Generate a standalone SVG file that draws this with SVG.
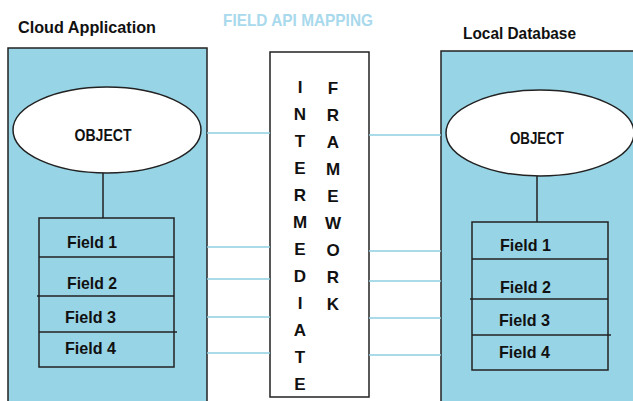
<svg xmlns="http://www.w3.org/2000/svg" width="633" height="401" viewBox="0 0 633 401">
<style>
.panel{fill:#97d4e6;stroke:#222;stroke-width:1.5}
.ell{fill:#fff;stroke:#222;stroke-width:1.5}
.ln{stroke:#222;stroke-width:1.5;fill:none}
.tbl{fill:none;stroke:#222;stroke-width:1.5}
.con{stroke:#8fcfe0;stroke-width:1.5;fill:none}
text{font-family:"Liberation Sans",Arial,sans-serif;font-weight:bold;fill:#111}
.title{font-size:17px}
.obj{font-size:17px;text-anchor:middle}
.fld{font-size:17px}
.let{font-size:17px;text-anchor:middle}
.hdr{font-size:17px;fill:#a9d9ec;text-anchor:middle}
</style>
<rect width="633" height="401" fill="#fff"/>
<text class="hdr" x="298" y="26" textLength="150" lengthAdjust="spacingAndGlyphs">FIELD API MAPPING</text>
<g id="cloud">
<text class="title" x="18" y="33" textLength="138" lengthAdjust="spacingAndGlyphs">Cloud Application</text>
<rect class="panel" x="8" y="48" width="199" height="360"/>
<g id="cloud-object">
<ellipse class="ell" cx="107" cy="130" rx="94" ry="43"/>
<text class="obj" x="103" y="141" textLength="57" lengthAdjust="spacingAndGlyphs">OBJECT</text>
</g>
<line class="ln" x1="103" y1="173" x2="103" y2="218"/>
<g id="cloud-fields">
<rect class="tbl" x="39" y="218" width="135" height="149"/>
<line class="ln" x1="39" y1="257" x2="174" y2="257"/>
<line class="ln" x1="37" y1="296" x2="174" y2="296"/>
<line class="ln" x1="39" y1="332" x2="177" y2="332"/>
<text class="fld" x="67" y="248" textLength="50" lengthAdjust="spacingAndGlyphs">Field 1</text>
<text class="fld" x="67" y="289" textLength="50" lengthAdjust="spacingAndGlyphs">Field 2</text>
<text class="fld" x="65" y="323" textLength="51" lengthAdjust="spacingAndGlyphs">Field 3</text>
<text class="fld" x="65" y="354" textLength="51" lengthAdjust="spacingAndGlyphs">Field 4</text>
</g>
</g>
<g id="framework">
<rect x="270" y="52" width="99" height="345" fill="#fff" stroke="#222" stroke-width="1.5"/>
<g class="col1">
<text class="let" x="300" y="93">I</text>
<text class="let" x="300" y="120">N</text>
<text class="let" x="300" y="147">T</text>
<text class="let" x="300" y="174">E</text>
<text class="let" x="300" y="201">R</text>
<text class="let" x="300" y="228">M</text>
<text class="let" x="300" y="255">E</text>
<text class="let" x="300" y="282">D</text>
<text class="let" x="300" y="309">I</text>
<text class="let" x="300" y="336">A</text>
<text class="let" x="300" y="363">T</text>
<text class="let" x="300" y="390">E</text>
</g>
<g class="col2">
<text class="let" x="333" y="94">F</text>
<text class="let" x="333" y="121">R</text>
<text class="let" x="333" y="148">A</text>
<text class="let" x="333" y="175">M</text>
<text class="let" x="333" y="202">E</text>
<text class="let" x="333" y="229">W</text>
<text class="let" x="333" y="256">O</text>
<text class="let" x="333" y="283">R</text>
<text class="let" x="333" y="310">K</text>
</g>
</g>
<g id="local">
<text class="title" x="463" y="39" textLength="113" lengthAdjust="spacingAndGlyphs">Local Database</text>
<rect class="panel" x="441" y="51" width="200" height="360"/>
<g id="local-object">
<ellipse class="ell" cx="540" cy="133" rx="94" ry="43"/>
<text class="obj" x="537" y="144" textLength="54" lengthAdjust="spacingAndGlyphs">OBJECT</text>
</g>
<line class="ln" x1="537" y1="176" x2="537" y2="222"/>
<g id="local-fields">
<rect class="tbl" x="472" y="222" width="136" height="148"/>
<line class="ln" x1="472" y1="259" x2="608" y2="259"/>
<line class="ln" x1="470" y1="299" x2="608" y2="299"/>
<line class="ln" x1="472" y1="335" x2="611" y2="335"/>
<text class="fld" x="500" y="251" textLength="51" lengthAdjust="spacingAndGlyphs">Field 1</text>
<text class="fld" x="500" y="293" textLength="51" lengthAdjust="spacingAndGlyphs">Field 2</text>
<text class="fld" x="499" y="326" textLength="51" lengthAdjust="spacingAndGlyphs">Field 3</text>
<text class="fld" x="499" y="358" textLength="51" lengthAdjust="spacingAndGlyphs">Field 4</text>
</g>
</g>
<g id="connectors">
<line class="con" x1="207" y1="133" x2="270" y2="133"/>
<line class="con" x1="207" y1="247" x2="270" y2="247"/>
<line class="con" x1="207" y1="279" x2="270" y2="279"/>
<line class="con" x1="207" y1="317" x2="270" y2="317"/>
<line class="con" x1="207" y1="353" x2="270" y2="353"/>
<line class="con" x1="369" y1="135" x2="441" y2="135"/>
<line class="con" x1="369" y1="251" x2="441" y2="251"/>
<line class="con" x1="369" y1="281" x2="441" y2="281"/>
<line class="con" x1="369" y1="318" x2="441" y2="318"/>
<line class="con" x1="369" y1="355" x2="441" y2="355"/>
</g>
</svg>
